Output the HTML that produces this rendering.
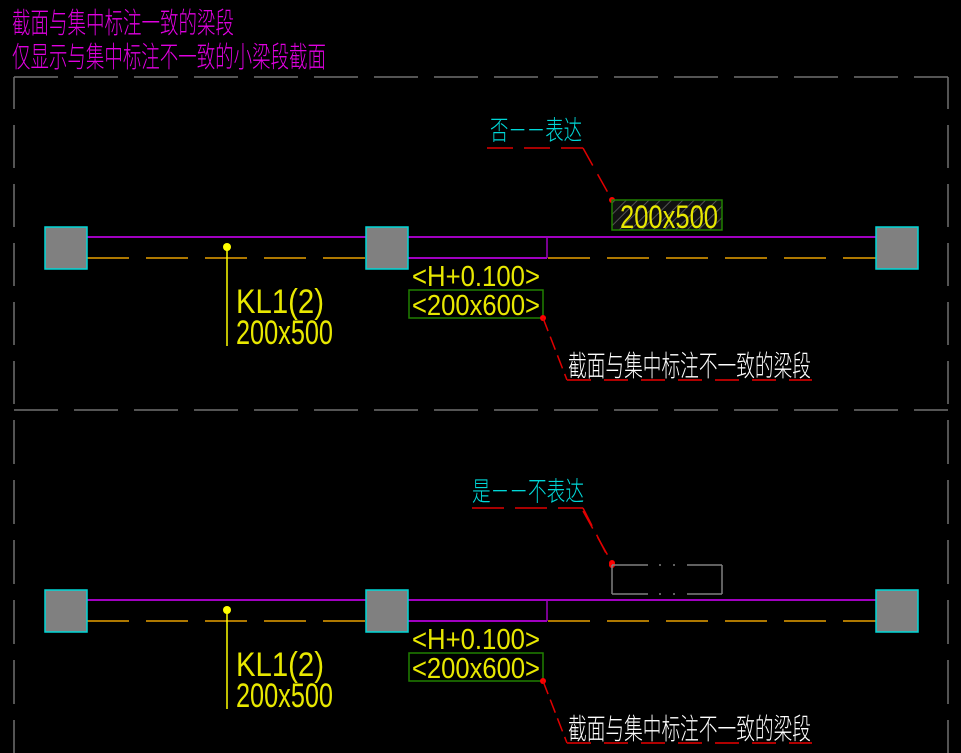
<!DOCTYPE html>
<html><head><meta charset="utf-8"><style>
html,body{margin:0;padding:0;background:#000;}
svg{display:block;}
text{font-family:"Liberation Sans","Noto Sans CJK SC",sans-serif;}
.cjk{font-family:"Noto Sans CJK SC","WenQuanYi Zen Hei",sans-serif;font-weight:300;}
.num{font-family:"Liberation Sans",sans-serif;font-weight:normal;}
</style></head><body>
<svg width="961" height="753" viewBox="0 0 961 753" xmlns="http://www.w3.org/2000/svg">
<defs>
<pattern id="h" width="8" height="8" patternUnits="userSpaceOnUse" patternTransform="rotate(45)">
<rect width="8" height="8" fill="#111"/><line x1="0" y1="0" x2="0" y2="8" stroke="#666" stroke-width="1.5"/></pattern>
<g id="sec">
  <line x1="87" y1="237" x2="876" y2="237" stroke="#a000c0" stroke-width="2"/>
  <line x1="408" y1="258" x2="547" y2="258" stroke="#a000c0" stroke-width="2"/>
  <line x1="547" y1="237" x2="547" y2="258" stroke="#a000c0" stroke-width="1.5"/>
  <line x1="87" y1="258" x2="366" y2="258" stroke="#e8a000" stroke-width="1.5" stroke-dasharray="42,17"/>
  <line x1="548" y1="258" x2="876" y2="258" stroke="#e8a000" stroke-width="1.5" stroke-dasharray="42,17"/>
  <rect x="45" y="227" width="42" height="42" fill="#808080" stroke="#00d8d8" stroke-width="1.5"/>
  <rect x="366" y="227" width="42" height="42" fill="#808080" stroke="#00d8d8" stroke-width="1.5"/>
  <rect x="876" y="227" width="42" height="42" fill="#808080" stroke="#00d8d8" stroke-width="1.5"/>
  <circle cx="227" cy="247" r="4" fill="#ffff00"/>
  <line x1="227" y1="247" x2="227" y2="346" stroke="#ffff00" stroke-width="1.5"/>
  <text x="236" y="313" fill="#e8e800" font-size="34" class="num" textLength="88" lengthAdjust="spacingAndGlyphs">KL1(2)</text>
  <text x="236" y="344" fill="#e8e800" font-size="34" class="num" textLength="97" lengthAdjust="spacingAndGlyphs">200x500</text>
  <text x="412" y="286" fill="#e8e800" font-size="29" class="num" textLength="128" lengthAdjust="spacingAndGlyphs">&lt;H+0.100&gt;</text>
  <rect x="409" y="290" width="134" height="28" fill="none" stroke="#208000" stroke-width="1.5"/>
  <text x="412" y="315" fill="#e8e800" font-size="29" class="num" textLength="128" lengthAdjust="spacingAndGlyphs">&lt;200x600&gt;</text>
  <circle cx="543" cy="318" r="3" fill="#ff0000"/>
  <line x1="543" y1="318" x2="567" y2="380" stroke="#e00000" stroke-width="1.5" stroke-dasharray="14,6"/>
  <line x1="567" y1="380" x2="812" y2="380" stroke="#b00000" stroke-width="2" stroke-dasharray="24,13"/>
  <text x="568" y="376" fill="#ffffff" font-size="29" class="cjk" textLength="243" lengthAdjust="spacingAndGlyphs">截面与集中标注不一致的梁段</text>
  <line x1="583" y1="148" x2="612" y2="200" stroke="#e00000" stroke-width="1.5" stroke-dasharray="20,10"/>
  <circle cx="612" cy="200" r="3" fill="#ff0000"/>
</g>
</defs>
<g stroke="#707070" stroke-width="1.5" fill="none" stroke-dasharray="44,16">
  <line x1="14" y1="77" x2="948" y2="77"/>
  <line x1="14" y1="410" x2="948" y2="410"/>
  <line x1="14" y1="77" x2="14" y2="753" stroke-dasharray="32,16,43,16,43,16,43,16,43,16,43,16,44,16,44,16,44,16,44,16,44,16,44,16"/>
  <line x1="948" y1="77" x2="948" y2="753" stroke-dasharray="32,16,43,16,43,16,43,16,43,16,43,16,44,16,44,16,44,16,44,16,44,16,44,16"/>
</g>
<text x="12" y="33" fill="#e000e0" font-size="29" class="cjk" textLength="222" lengthAdjust="spacingAndGlyphs">截面与集中标注一致的梁段</text>
<text x="12" y="67" fill="#e000e0" font-size="29" class="cjk" textLength="314" lengthAdjust="spacingAndGlyphs">仅显示与集中标注不一致的小梁段截面</text>

<use href="#sec"/>
<text x="490" y="140" fill="#00d8d8" font-size="27" class="cjk" textLength="92" lengthAdjust="spacingAndGlyphs">否－－表达</text>
<line x1="487" y1="148" x2="583" y2="148" stroke="#e00000" stroke-width="1.5" stroke-dasharray="26,11"/>
<rect x="612" y="200" width="110" height="30" fill="url(#h)" stroke="#208000" stroke-width="1.5"/>
<text x="620" y="228" fill="#e8e800" font-size="32" class="num" textLength="98" lengthAdjust="spacingAndGlyphs">200x500</text>

<use href="#sec" y="363"/>
<text x="472" y="501" fill="#00d8d8" font-size="27" class="cjk" textLength="112" lengthAdjust="spacingAndGlyphs">是－－不表达</text>
<line x1="472" y1="508" x2="583" y2="508" stroke="#e00000" stroke-width="1.5" stroke-dasharray="32,11"/>
<path d="M583 508 L612 565" stroke="#e00000" stroke-width="1.5" fill="none" stroke-dasharray="20,10"/>
<circle cx="612" cy="565" r="3" fill="#ff0000"/>
<g stroke="#808080" stroke-width="1.5" fill="none">
  <line x1="612" y1="565" x2="612" y2="594"/>
  <line x1="722" y1="565" x2="722" y2="594"/>
  <path d="M612 565 H648 M659 565 H661 M673 565 H675 M687 565 H722"/>
  <path d="M612 594 H648 M659 594 H661 M673 594 H675 M687 594 H722"/>
</g>
</svg>
</body></html>
